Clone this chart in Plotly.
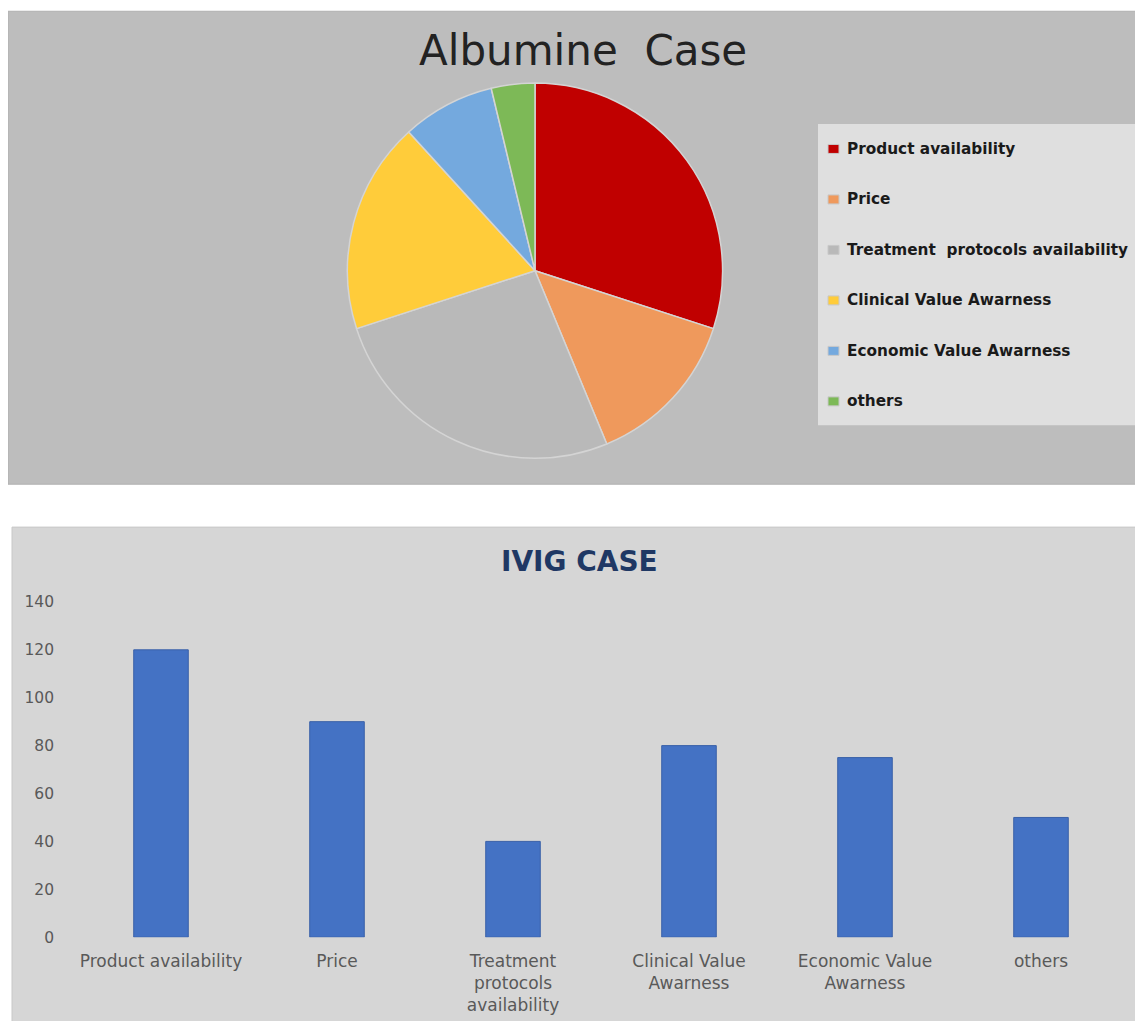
import plotly.graph_objects as go

# figure size; the page keeps its default 8px body margin
W, H = 1143, 1021

# Albumine case (pie) - shares
pie_labels = ["Product availability", "Price", "Treatment  protocols availability",
              "Clinical Value Awarness", "Economic Value Awarness", "others"]
pie_values = [120, 55, 105, 73, 32, 15]
pie_colors = ["#c00000", "#ef995c", "#b9b9b9", "#ffcc3a", "#74a9de", "#7db957"]

# IVIG case (bars)
bar_labels = ["Product availability", "Price", "Treatment<br>protocols<br>availability",
              "Clinical Value<br>Awarness", "Economic Value<br>Awarness", "others"]
bar_values = [120, 90, 40, 80, 75, 50]
y_ticks = [0, 20, 40, 60, 80, 100, 120, 140]


def px(x):
    # screen pixel -> paper x
    return (x - 8) / W


def py(y):
    # screen pixel -> paper y
    return 1 - (y * 1037 / 1021 - 16) / H


fig = go.Figure()

pie_r = 188
fig.add_trace(go.Pie(
    labels=pie_labels, values=pie_values, sort=False, direction="clockwise",
    rotation=0, textinfo="none", showlegend=False,
    marker=dict(colors=pie_colors, line=dict(color="#d4d4d4", width=1.5)),
    domain=dict(x=[px(535 - pie_r), px(535 + pie_r)], y=[py(270 + pie_r), py(270 - pie_r)]),
))

fig.add_trace(go.Bar(
    x=list(range(len(bar_values))), y=bar_values, showlegend=False,
    marker=dict(color="#4472c4", line=dict(color="#3a61a8", width=1)),
    xaxis="x", yaxis="y",
))

# panel backgrounds
shapes = [
    dict(type="rect", xref="paper", yref="paper", x0=px(8), x1=1.01, y0=py(484), y1=py(10),
         fillcolor="#bdbdbd", line=dict(color="#b0b0b0", width=1), layer="below"),
    dict(type="rect", xref="paper", yref="paper", x0=px(12), x1=1.01, y0=-0.01, y1=py(527),
         fillcolor="#d6d6d6", line=dict(color="#c8c8c8", width=1), layer="below"),
    dict(type="rect", xref="paper", yref="paper", x0=px(818), x1=1.01, y0=py(425), y1=py(123),
         fillcolor="#dfdfdf", line=dict(width=0), layer="below"),
]

annotations = [
    dict(text="Albumine  Case", x=px(583), y=py(49), xref="paper", yref="paper",
         xanchor="center", yanchor="middle", showarrow=False,
         font=dict(family="DejaVu Sans", size=42, color="#222222")),
    dict(text="<b>IVIG CASE</b>", x=px(579), y=py(561), xref="paper", yref="paper",
         xanchor="center", yanchor="middle", showarrow=False,
         font=dict(family="DejaVu Sans", size=28, color="#1f3864")),
]

# hand-drawn legend for the pie
for i, (lab, col) in enumerate(zip(pie_labels, pie_colors)):
    yc = 148 + 50.6 * i
    shapes.append(dict(type="rect", xref="paper", yref="paper",
                       x0=px(828), x1=px(839), y0=py(yc + 4.5), y1=py(yc - 4.5),
                       fillcolor=col, line=dict(color="#c8c8c8", width=1)))
    annotations.append(dict(text="<b>" + lab + "</b>", x=px(845), y=py(yc),
                            xref="paper", yref="paper", xanchor="left", yanchor="middle",
                            showarrow=False,
                            font=dict(family="DejaVu Sans", size=15.3, color="#1a1a1a")))

fig.update_layout(
    width=W, height=H, autosize=False,
    margin=dict(l=0, r=0, t=0, b=0),
    paper_bgcolor="white", plot_bgcolor="rgba(0,0,0,0)",
    bargap=0.69,
    shapes=shapes, annotations=annotations,
    xaxis=dict(domain=[px(73), px(1129)], range=[-0.5, 5.5],
               tickmode="array", tickvals=list(range(len(bar_labels))), ticktext=bar_labels,
               showgrid=False, zeroline=False, showline=False, ticks="",
               ticklabelstandoff=12,
               tickfont=dict(family="DejaVu Sans", size=17, color="#595959")),
    yaxis=dict(domain=[py(938), py(602)], range=[0, 140],
               tickmode="array", tickvals=y_ticks,
               showgrid=False, zeroline=False, showline=False, ticks="",
               ticklabelstandoff=18,
               tickfont=dict(family="DejaVu Sans", size=15.5, color="#595959")),
)

fig.write_html("out.html")
